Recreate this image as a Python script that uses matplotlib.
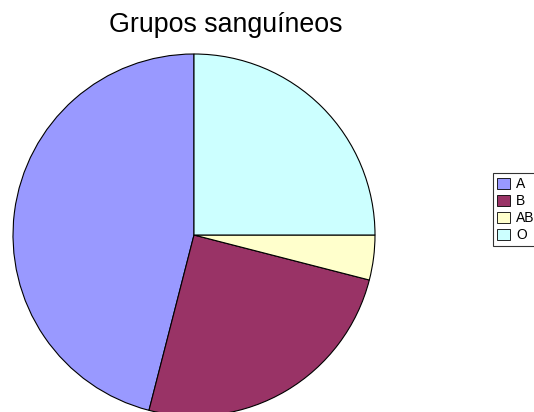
import matplotlib.pyplot as plt

labels = ['A', 'B', 'AB', 'O']
values = [46, 25, 4, 25]
colors = ['#9999FF', '#993366', '#FFFFCC', '#CCFFFF']

plt.rcParams['font.family'] = ['Liberation Sans', 'DejaVu Sans']

W, H = 534, 412
fig = plt.figure(figsize=(W / 100, H / 100), dpi=100)

# pie centre (194, 235) px, radius 181 px
cx, cy, r = 194, 235, 181
ax = fig.add_axes([(cx - r) / W, (H - cy - r) / H, 2 * r / W, 2 * r / H])
wedges, _ = ax.pie(values, colors=colors, startangle=90, counterclock=True,
                   wedgeprops=dict(edgecolor='black', linewidth=0.8))
ax.set_xlim(-1, 1)
ax.set_ylim(-1, 1)
ax.set_aspect('auto')
ax.axis('off')

fig.text(226 / W, 1 - 32 / H, 'Grupos sanguíneos', ha='center', va='baseline', fontsize=19.3)

leg = fig.legend(wedges, labels, loc='upper left',
                 bbox_to_anchor=(493 / W, 1 - 173 / H), fontsize=10,
                 frameon=True, fancybox=False, handlelength=0.95, handleheight=0.8,
                 handletextpad=0.43, labelspacing=0.22, borderpad=0.3,
                 borderaxespad=0)
leg.get_frame().set_edgecolor('black')
leg.get_frame().set_linewidth(0.8)
for h in leg.legend_handles:
    h.set_edgecolor('black')
    h.set_linewidth(0.6)

fig.savefig('out.png', dpi=100)
